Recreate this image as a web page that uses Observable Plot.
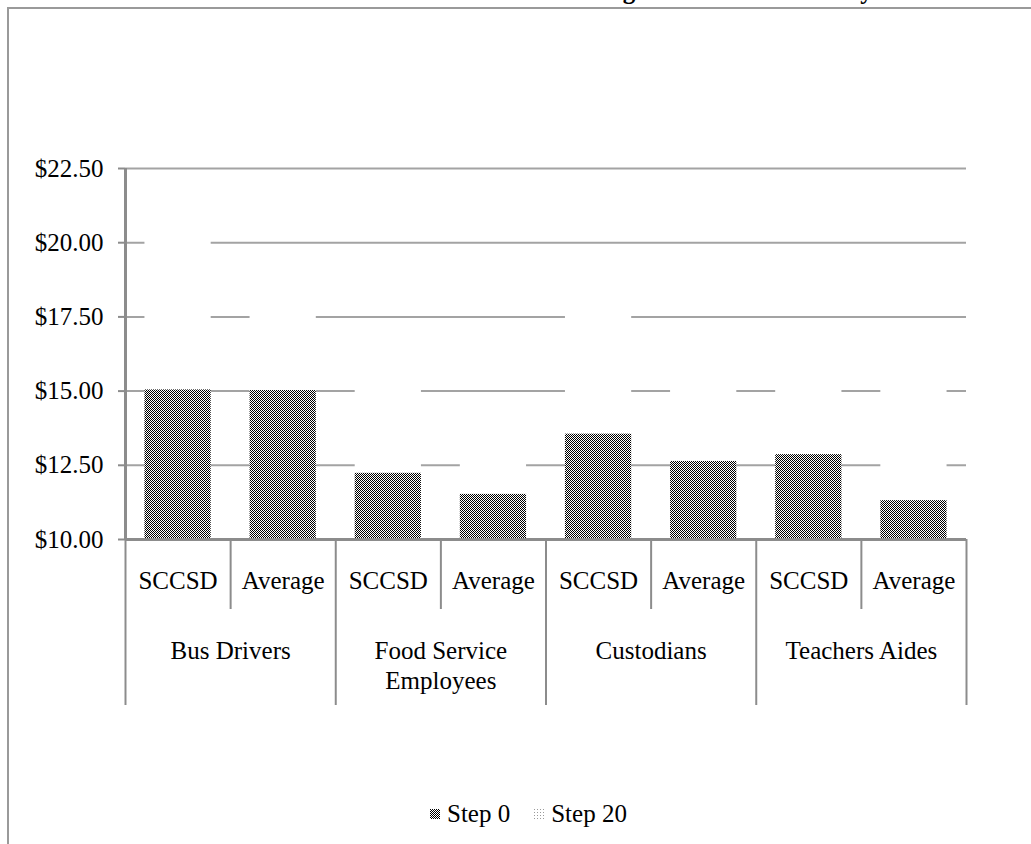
<!DOCTYPE html>
<html>
<head>
<meta charset="utf-8">
<script src="https://cdn.jsdelivr.net/npm/d3@7"></script>
<script src="https://cdn.jsdelivr.net/npm/@observablehq/plot@0.6"></script>
<style>
  html, body { margin: 0; padding: 0; background: #fff; }
  body {
    width: 1031px; height: 844px; overflow: hidden; position: relative;
    font-family: "Liberation Serif", "Times New Roman", serif; color: #000;
  }
  #frame {
    position: absolute; left: 7px; top: 7px; width: 1200px; height: 1000px;
    border-left: 2px solid #9a9a9a; border-top: 2px solid #9a9a9a;
  }
  #title {
    position: absolute; left: 419px; top: -23px; white-space: nowrap;
    font-size: 25px; line-height: 28px; font-weight: bold;
  }
  #chart { position: absolute; left: 0; top: 0; }
  #legend {
    position: absolute; left: 430px; top: 799px; height: 30px;
    display: flex; align-items: center; font-size: 25px;
  }
  #legend .item { display: flex; align-items: center; margin-right: 24px; }
  #legend svg { margin-right: 7px; }
</style>
</head>
<body>
<svg width="0" height="0" style="position:absolute">
  <defs>
    <pattern id="checker" width="2" height="2" patternUnits="userSpaceOnUse">
      <rect width="2" height="2" fill="#fff"/>
      <rect width="1" height="1" fill="#000"/>
      <rect x="1" y="1" width="1" height="1" fill="#000"/>
    </pattern>
    <pattern id="dotted" width="3" height="3" patternUnits="userSpaceOnUse">
      <rect width="3" height="3" fill="#fff"/>
      <rect width="1" height="1" fill="#9a9a9a"/>
    </pattern>
  </defs>
</svg>
<div id="frame"></div>
<div id="title">Classified Staff Wages: SCCSD vs. County</div>
<div id="chart"></div>
<div id="legend"></div>
<script>
// Job groups, and the two sources compared within each group
const groups = ["Bus Drivers", "Food Service\nEmployees", "Custodians", "Teachers Aides"];
const sources = ["SCCSD", "Average"];

// Hourly wage per bar, in group order: SCCSD then Average
const step0 = [15.04, 15.02, 12.23, 11.52, 13.55, 12.63, 12.86, 11.31];
const step20 = [21.0, 18.6, 16.2, 13.9, 18.5, 16.1, 16.3, 15.6];

// Value axis ticks
const yTicks = [10, 12.5, 15, 17.5, 20, 22.5];

const seriesNames = ["Step 0", "Step 20"];
const seriesFills = ["url(#checker)", "url(#dotted)"];

const rows = step0.map((v, i) => ({
  i,
  group: groups[Math.floor(i / 2)],
  source: sources[i % 2],
  step0: v,
  step20: step20[i]
}));

const half = 0.315;           // half bar width, in category units
const subBounds = d3.range(1, rows.length, 2);      // between SCCSD and Average
const groupBounds = d3.range(0, rows.length + 1, 2); // between job groups
const axisGray = "#8c8c8c";
const labelSize = 25;

const chart = Plot.plot({
  width: 1031,
  height: 780,
  marginTop: 168,
  marginBottom: 241,
  marginLeft: 125,
  marginRight: 65,
  style: { fontFamily: "Liberation Serif, Times New Roman, serif", fontSize: labelSize + "px", color: "#000", overflow: "visible", background: "transparent" },
  x: { domain: [0, rows.length], axis: null },
  y: { domain: [10, 22.5], axis: null },
  marks: [
    Plot.ruleY(yTicks, { stroke: "#a3a3a3", strokeWidth: 2 }),
    // Step 20 bars: white, sitting behind the Step 0 bars
    Plot.rectY(rows, { x1: d => d.i + 0.5 - half, x2: d => d.i + 0.5 + half, y1: 10, y2: "step20", fill: "#fff" }),
    // Step 0 bars
    Plot.rectY(rows, { x1: d => d.i + 0.5 - half, x2: d => d.i + 0.5 + half, y1: 10, y2: "step0", fill: "url(#checker)" }),
    Plot.axisY({
      ticks: yTicks,
      tickFormat: d => "$" + d.toFixed(2),
      tickSize: 7,
      tickPadding: 15,
      fontSize: labelSize,
      stroke: axisGray,
      strokeWidth: 2,
      fill: "#000"
    }),
    Plot.ruleX([0], { stroke: axisGray, strokeWidth: 3 }),
    Plot.ruleY([10], { stroke: axisGray, strokeWidth: 3 }),
    // category separators below the axis
    Plot.ruleX(subBounds, { x: d => d, y1: 10, y2: 10, insetBottom: -70, stroke: axisGray, strokeWidth: 2 }),
    Plot.ruleX(groupBounds, { x: d => d, y1: 10, y2: 10, insetBottom: -166, stroke: axisGray, strokeWidth: 2 }),
    // source labels
    Plot.text(rows, { x: d => d.i + 0.5, y: 10, text: "source", dy: 41, fontSize: labelSize }),
    // group labels
    Plot.text(groups, { x: (d, j) => 2 * j + 1, y: 10, text: d => d, lineAnchor: "top", dy: 99, lineHeight: 1.17, fontSize: labelSize })
  ]
});
document.getElementById("chart").append(chart);

// Legend
const legend = d3.select("#legend");
seriesNames.forEach((name, k) => {
  const item = legend.append("div").attr("class", "item");
  item.append("svg").attr("width", 10).attr("height", 10)
    .append("rect").attr("width", 10).attr("height", 10).attr("fill", seriesFills[k]);
  item.append("span").text(name);
});
</script>
</body>
</html>
